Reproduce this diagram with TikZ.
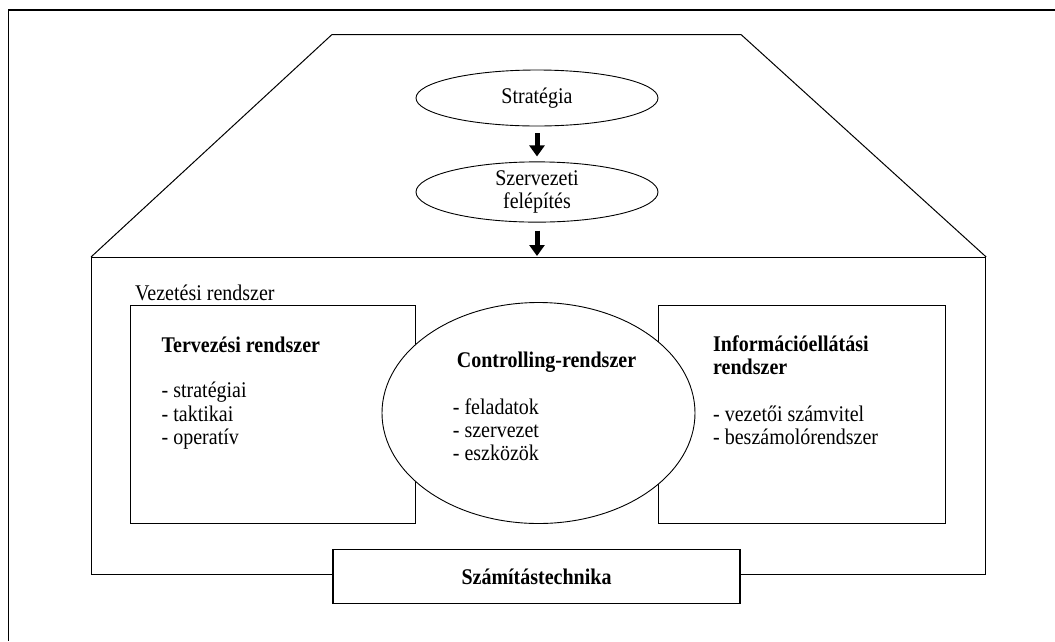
\documentclass[tikz,border=0pt]{standalone}
\usepackage{fontspec}
\setmainfont{Liberation Serif}
\usetikzlibrary{shapes.geometric,arrows.meta}
% slightly taller lettering
\newcommand\tallbox[1]{\scalebox{1}[1.12]{#1}}
\begin{document}
\begin{tikzpicture}[x=1pt,y=-1pt,
  frameline/.style={line width=1.4pt},
  boxline/.style={draw, line width=1.2pt, inner sep=0pt},
  oval/.style={draw, ellipse, line width=0.9pt, inner sep=0pt, fill=white,
    font=\fontsize{20}{23}\selectfont, align=center},
  txt/.style={inner sep=0pt, anchor=base west, font=\fontsize{20}{23}\selectfont},
  txtbold/.style={txt, font=\fontsize{20}{23}\selectfont\bfseries},
  bigarrow/.style={-{Triangle[width=15pt,length=11pt]}, line width=5pt}]
\useasboundingbox (0,0) rectangle (1055,641);

% page frame
\draw[frameline] (1055,10) -- (8.5,10) -- (8.5,641);

% management system body and roof
\node[boxline, anchor=north west, minimum width=894pt, minimum height=317pt] (mgmt) at (91,257) {};
\draw[line width=1pt] (mgmt.north west) -- (332,34.5) -- (741,34.5) -- (mgmt.north east);

% strategy and organisation
\node[oval, minimum width=242pt, minimum height=56pt] (strat) at (537,98) {\tallbox{Stratégia}};
\node[oval, minimum width=242pt, minimum height=60pt] (szerv) at (537,192) {\tallbox{Szervezeti}\\\tallbox{felépítés}};
\draw[bigarrow, shorten <=7pt, shorten >=5pt] (strat.south) -- (szerv.north);
\draw[bigarrow, shorten <=8pt, shorten >=1pt] (szerv.south) -- (szerv.south |- mgmt.north);

% subsystems
\node[txt] (vez) at (135,300) {\tallbox{Vezetési rendszer}};
\node[boxline, anchor=north west, minimum width=285pt, minimum height=218pt] (plan) at (130,305) {};
\node[boxline, anchor=north west, minimum width=286.5pt, minimum height=218pt] (info) at (658,305) {};
\node[oval, minimum width=313pt, minimum height=221pt] (ctrl) at (538.5,413) {};

% planning system
\node[txtbold] (planhead) at (161.5,352) {\tallbox{Tervezési rendszer}};
\node[txt] (plan1) at (161.5,397) {\tallbox{- stratégiai}};
\node[txt] (plan2) at (161.5,421) {\tallbox{- taktikai}};
\node[txt] (plan3) at (161.5,444) {\tallbox{- operatív}};

% controlling system
\node[txtbold, anchor=base] (ctrlhead) at (546.5,367.5) {\tallbox{Controlling-rendszer}};
\node[txt] (ctrl1) at (452.7,414) {\tallbox{- feladatok}};
\node[txt] (ctrl2) at (452.7,437) {\tallbox{- szervezet}};
\node[txt] (ctrl3) at (452.7,460) {\tallbox{- eszközök}};

% information supply system
\node[txtbold] (infohead1) at (713,351) {\tallbox{Információellátási}};
\node[txtbold] (infohead2) at (713,374) {\tallbox{rendszer}};
\node[txt] (info1) at (713,421) {\tallbox{- vezetői számvitel}};
\node[txt] (info2) at (713,444) {\tallbox{- beszámolórendszer}};

% computing
\node[boxline, fill=white, minimum width=407pt, minimum height=54.5pt,
  font=\fontsize{20}{23}\selectfont\bfseries] (comp) at (536.5,576.5) {\tallbox{Számítástechnika}};
\end{tikzpicture}
\end{document}
